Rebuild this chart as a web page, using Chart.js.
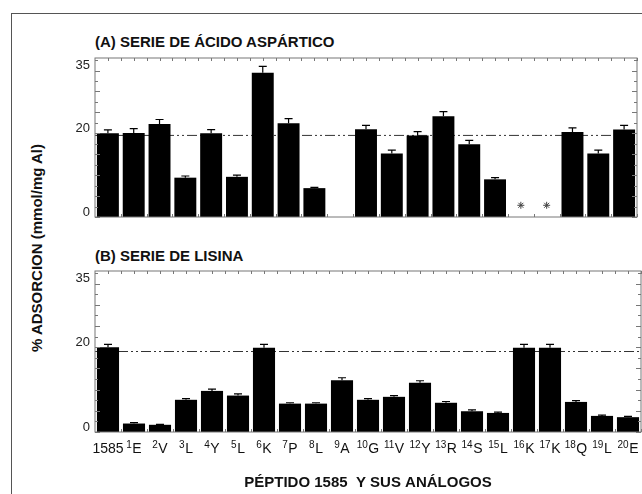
<!DOCTYPE html>
<html>
<head>
<meta charset="utf-8">
<script src="https://cdn.jsdelivr.net/npm/chart.js@4.4.1/dist/chart.umd.min.js"></script>
<style>
body{margin:0;width:642px;height:494px;overflow:hidden;background:#fff;position:relative;font-family:"Liberation Sans",Arial,sans-serif;color:#111}
#marco{position:absolute;left:11px;top:13px;width:700px;height:600px;border-left:1.5px solid #555;border-top:1.5px solid #555}
.panel{position:absolute;left:95px;font-weight:bold;font-size:15px;line-height:17px;white-space:nowrap}
#ytit{position:absolute;left:36px;top:248px;transform:translate(-50%,-50%) rotate(-90deg);white-space:nowrap;font-weight:bold;font-size:15px}
.caja{position:absolute;left:0}
</style>
</head>
<body>
<div id="marco"></div>
<div class="panel" style="top:33px">(A) SERIE DE ÁCIDO ASPÁRTICO</div>
<div class="panel" style="top:247px">(B) SERIE DE LISINA</div>
<div id="ytit">% ADSORCION (mmol/mg Al)</div>
<div class="caja" style="top:0"><canvas id="graficaA" width="642" height="230"></canvas></div>
<div class="caja" style="top:230px"><canvas id="graficaB" width="642" height="264"></canvas></div>
<script>
// posicion (superindice) y residuo de cada analogo
var posiciones = ['','1','2','3','4','5','6','7','8','9','10','11','12','13','14','15','16','17','18','19','20'];
var residuos = ['1585','E','V','L','Y','L','K','P','L','A','G','V','Y','R','S','L','K','K','Q','L','E'];
var etiquetas = residuos.map(function(r, i){ return posiciones[i] + r; });

// (A) serie de acido aspartico
var serieA = [20.0,20.1,22.2,9.4,20.0,9.6,34.5,22.4,6.9,null,21.0,15.2,19.5,24.1,17.4,9.0,null,null,20.3,15.2,20.9];
var errorA = [0.8,1.0,1.1,0.4,0.9,0.4,1.5,1.1,0.2,0,0.9,0.8,0.9,1.1,0.9,0.4,0,0,1.0,0.8,1.0];
var asteriscoA = [null,null,null,null,null,null,null,null,null,null,null,null,null,null,null,null,2.8,2.8,null,null,null];
var refA = 19.5;

// (B) serie de lisina
var serieB = [20.0,2.0,1.7,7.6,9.7,8.6,19.9,6.7,6.7,12.2,7.6,8.3,11.6,6.9,4.9,4.5,19.9,19.9,7.1,3.8,3.5];
var errorB = [0.7,0.2,0.1,0.3,0.4,0.4,0.8,0.2,0.2,0.6,0.3,0.3,0.5,0.3,0.3,0.2,0.8,0.8,0.3,0.2,0.2];
var refB = 19.0;

var ticksY = [0, 20, 35];
var maxY = 38;

var fuente = '"Liberation Sans", Arial, sans-serif';
Chart.defaults.font.family = fuente;
Chart.defaults.color = '#111';

var marcoPlugin = {
    id: 'marco',
    beforeDatasetsDraw: function(chart, args, opts){
        var a = chart.chartArea, ctx = chart.ctx;
        var yr = chart.scales.y.getPixelForValue(opts.ref);
        ctx.save();
        ctx.strokeStyle = '#333';
        ctx.lineWidth = 1;
        ctx.setLineDash([10,3,2,3,2,3]);
        ctx.beginPath();
        ctx.moveTo(a.left, yr);
        ctx.lineTo(a.right, yr);
        ctx.stroke();
        ctx.restore();
    },
    afterDatasetsDraw: function(chart, args, opts){
        var a = chart.chartArea, ctx = chart.ctx;
        var x = chart.scales.x, y = chart.scales.y;
        ctx.save();
        // barras de error
        ctx.strokeStyle = '#000';
        ctx.lineWidth = 1.2;
        var meta = chart.getDatasetMeta(0);
        meta.data.forEach(function(bar, i){
            var v = opts.vals[i];
            if (v === null || !opts.err[i]) return;
            var yt = y.getPixelForValue(v + opts.err[i]);
            ctx.beginPath();
            ctx.moveTo(bar.x, bar.y);
            ctx.lineTo(bar.x, yt);
            ctx.moveTo(bar.x - 4, yt);
            ctx.lineTo(bar.x + 4, yt);
            ctx.stroke();
        });
        // marco del grafico
        ctx.strokeStyle = '#777';
        ctx.lineWidth = 1;
        ctx.strokeRect(a.left, a.top, a.right - a.left, a.bottom - a.top);
        // marcas menores en y
        for (var v = 0; v <= 37.5; v += 2.5){
            var py = Math.round(y.getPixelForValue(v)) + 0.5;
            var len = (v % 5 === 0) ? 5 : 3;
            ctx.beginPath();
            ctx.moveTo(a.left, py); ctx.lineTo(a.left + len, py);
            ctx.moveTo(a.right, py); ctx.lineTo(a.right - len, py);
            ctx.stroke();
        }
        // marcas en x
        var paso = x.getPixelForValue(1) - x.getPixelForValue(0);
        for (var i = 0; i < etiquetas.length; i++){
            var c = x.getPixelForValue(i);
            var b = Math.round(c + paso / 2) + 0.5;
            ctx.beginPath();
            ctx.moveTo(b, a.top); ctx.lineTo(b, a.top + 3);
            ctx.moveTo(Math.round(c) + 0.5, a.top); ctx.lineTo(Math.round(c) + 0.5, a.top + 3);
            ctx.moveTo(b, a.bottom); ctx.lineTo(b, a.bottom - 3);
            ctx.stroke();
        }
        // etiquetas con superindice
        if (opts.etiquetas){
            var base = a.bottom + 21;
            ctx.fillStyle = '#111';
            ctx.textBaseline = 'alphabetic';
            ctx.textAlign = 'left';
            for (var k = 0; k < residuos.length; k++){
                ctx.font = '10px ' + fuente;
                var w1 = posiciones[k] ? ctx.measureText(posiciones[k]).width + 0.5 : 0;
                ctx.font = '14px ' + fuente;
                var w2 = ctx.measureText(residuos[k]).width;
                var x0 = x.getPixelForValue(k) - (w1 + w2) / 2;
                if (posiciones[k]){
                    ctx.font = '10px ' + fuente;
                    ctx.fillText(posiciones[k], x0, base - 5);
                }
                ctx.font = '14px ' + fuente;
                ctx.fillText(residuos[k], x0 + w1, base);
            }
        }
        ctx.restore();
    }
};

function escalaY(){
    return {
        min: 0, max: maxY,
        grid: {display: false, drawTicks: false},
        border: {display: false},
        afterFit: function(s){ s.width = 95; },
        afterBuildTicks: function(s){ s.ticks = ticksY.map(function(v){ return {value: v}; }); },
        ticks: {padding: 5, labelOffset: -5, font: {size: 13}, color: '#222'}
    };
}

new Chart(document.getElementById('graficaA'), {
    type: 'bar',
    data: {
        labels: etiquetas,
        datasets: [{
            data: serieA,
            backgroundColor: '#000',
            barPercentage: 0.85,
            categoryPercentage: 1
        }, {
            type: 'line',
            data: asteriscoA,
            showLine: false,
            pointStyle: 'star',
            pointRadius: 3.5,
            borderColor: '#444',
            borderWidth: 1,
            backgroundColor: '#444'
        }]
    },
    options: {
        responsive: false,
        animation: false,
        layout: {padding: {top: 58, right: 1, bottom: 13, left: 0}},
        plugins: {
            legend: {display: false},
            tooltip: {enabled: false},
            marco: {ref: refA, vals: serieA, err: errorA, etiquetas: false}
        },
        scales: {
            x: {display: false},
            y: escalaY()
        }
    },
    plugins: [marcoPlugin]
});

new Chart(document.getElementById('graficaB'), {
    type: 'bar',
    data: {
        labels: etiquetas,
        datasets: [{
            data: serieB,
            backgroundColor: '#000',
            barPercentage: 0.85,
            categoryPercentage: 1
        }]
    },
    options: {
        responsive: false,
        animation: false,
        layout: {padding: {top: 41, right: 1, bottom: 0, left: 0}},
        plugins: {
            legend: {display: false},
            tooltip: {enabled: false},
            marco: {ref: refB, vals: serieB, err: errorB, etiquetas: true}
        },
        scales: {
            x: {
                grid: {display: false, drawTicks: false},
                border: {display: false},
                afterFit: function(s){ s.height = 62; },
                ticks: {display: false},
                title: {
                    display: true,
                    text: 'PÉPTIDO 1585  Y SUS ANÁLOGOS',
                    font: {size: 15, weight: 'bold'},
                    color: '#111',
                    padding: {top: 0, bottom: 2}
                }
            },
            y: escalaY()
        }
    },
    plugins: [marcoPlugin]
});
</script>
</body>
</html>
